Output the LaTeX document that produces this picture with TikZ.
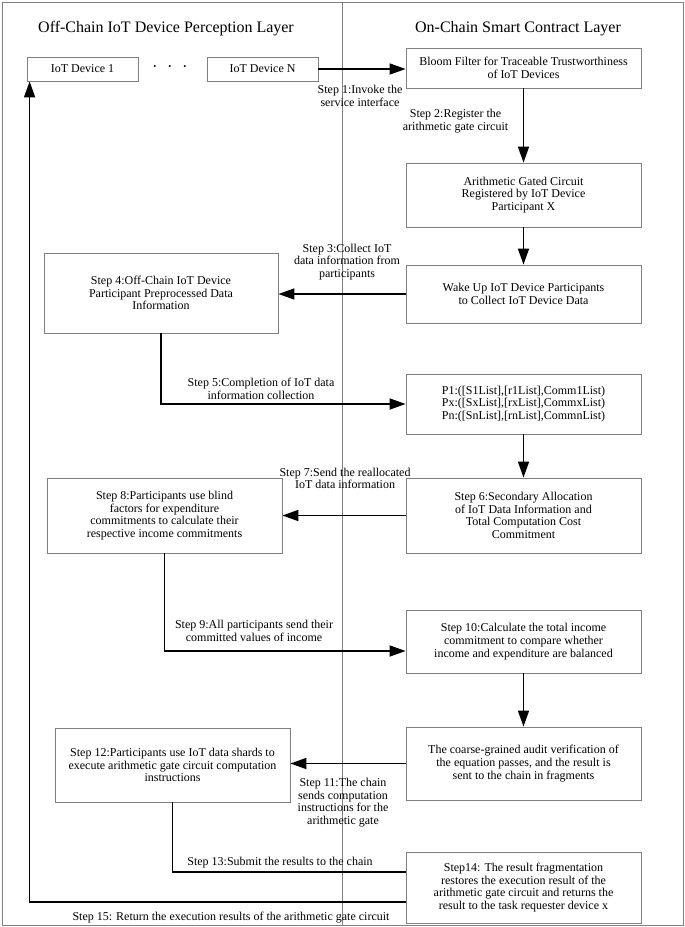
\documentclass[tikz,border=0pt]{standalone}
\usepackage{fontspec}
\setmainfont{Liberation Serif}
\usetikzlibrary{arrows.meta, calc}

\begin{document}
\begin{tikzpicture}[x=1pt, y=-1pt,
	box/.style={draw=gray, line width=0.8pt, align=center, inner sep=0pt, font=\fontsize{12}{12.7}\selectfont},
	lbl/.style={align=center, inner sep=0pt, font=\fontsize{12}{12.7}\selectfont},
	layer/.style={inner sep=0pt, font=\fontsize{16}{19}\selectfont},
	flow/.style={line width=1.6pt, -{Triangle[length=16pt,width=11pt]}},
	wire/.style={line width=1.6pt}]
	\useasboundingbox (0,0) rectangle (685,927);
	\draw[gray, line width=0.8pt] (2,2) rectangle (683,925);
	\draw[gray, line width=0.5pt] (342,2) -- (342,925);

	\node[layer] (offchain) at (166,29) {Off-Chain IoT Device Perception Layer};
	\node[layer] (onchain) at (518,29) {On-Chain Smart Contract Layer};

	\node[box, minimum width=111pt, minimum height=24pt] (dev1) at (82.5,69) {IoT Device 1};
	\node[lbl, font=\bfseries\fontsize{12}{12.7}\selectfont] (dots) at (170,68) {\textperiodcentered\hspace{11pt}\textperiodcentered\hspace{11pt}\textperiodcentered};
	\node[box, minimum width=111pt, minimum height=24pt] (devN) at (262.5,69) {IoT Device N};
	\node[box, minimum width=235pt, minimum height=40pt] (bloom) at (523.5,68) {Bloom Filter for Traceable Trustworthiness\\of IoT Devices};
	\node[box, minimum width=235pt, minimum height=64pt] (agc) at (523.5,195) {Arithmetic Gated Circuit\\Registered by IoT Device\\Participant X};
	\node[box, minimum width=235pt, minimum height=58pt] (wake) at (523.5,294) {Wake Up IoT Device Participants\\to Collect IoT Device Data};
	\node[box, minimum width=234pt, minimum height=80pt] (step4) at (161,293) {Step 4:Off-Chain IoT Device\\Participant Preprocessed Data\\Information};
	\node[box, minimum width=235pt, minimum height=60pt] (plist) at (523.5,404) {P1:([S1List],[r1List],Comm1List)\\Px:([SxList],[rxList],CommxList)\\Pn:([SnList],[rnList],CommnList)};
	\node[box, minimum width=235pt, minimum height=75pt] (step6) at (523.5,515.5) {Step 6:Secondary Allocation\\of IoT Data Information and\\Total Computation Cost\\Commitment};
	\node[box, minimum width=235pt, minimum height=75pt] (step8) at (164.5,515.5) {Step 8:Participants use blind\\factors for expenditure\\commitments to calculate their\\respective income commitments};
	\node[box, minimum width=235pt, minimum height=63pt] (step10) at (523.5,641.5) {Step 10:Calculate the total income\\commitment to compare whether\\income and expenditure are balanced};
	\node[box, minimum width=235pt, minimum height=73pt] (audit) at (523.5,763.5) {The coarse-grained audit verification of\\the equation passes, and the result is\\sent to the chain in fragments};
	\node[box, minimum width=235pt, minimum height=74pt] (step12) at (172.5,765) {Step 12:Participants use IoT data shards to\\execute arithmetic gate circuit computation\\instructions};
	\node[box, minimum width=235pt, minimum height=71pt] (step14) at (523.5,887.5) {Step14: The result fragmentation\\restores the execution result of the\\arithmetic gate circuit and returns the\\result to the task requester device x};

	\draw[flow] (devN.east) -- (bloom.west |- devN.east);
	\draw[flow] (bloom.south) -- (agc.north);
	\draw[flow] (agc.south) -- (wake.north);
	\draw[flow] (wake.west) -- (wake.west -| step4.east);
	\draw[flow] (step4.south) |- (plist.west);
	\draw[flow] (plist.south) -- (step6.north);
	\draw[flow] (step6.west) -- (step8.east);
	\draw[flow] (step8.south) |- ([yshift=-9.5pt]step10.west);
	\draw[flow] (step10.south) -- (audit.north);
	\draw[flow] (audit.west) -- (audit.west -| step12.east);
	\draw[wire] (step12.south) |- ([yshift=15.5pt]step14.west);
	\draw[flow] ([yshift=-14.5pt]step14.west) -| ([xshift=3pt]dev1.south west);

	\path (360,96) node[lbl] (s1) {Step 1:Invoke the\\service interface};
	\path (455.5,121) node[lbl] (s2) {Step 2:Register the\\arithmetic gate circuit};
	\path (347,262) node[lbl] (s3) {Step 3:Collect IoT\\data information from\\participants};
	\path (261,389) node[lbl] (s5) {Step 5:Completion of IoT data\\information collection};
	\path (345,478.5) node[lbl] (s7) {Step 7:Send the reallocated\\IoT data information};
	\path (254,631) node[lbl] (s9) {Step 9:All participants send their\\committed values of income};
	\path (343,802.5) node[lbl] (s11) {Step 11:The chain\\sends computation\\instructions for the\\arithmetic gate};
	\path (280,863) node[lbl] (s13) {Step 13:Submit the results to the chain};
	\path (231,918) node[lbl] (s15) {Step 15: Return the execution results of the arithmetic gate circuit};
\end{tikzpicture}
\end{document}
